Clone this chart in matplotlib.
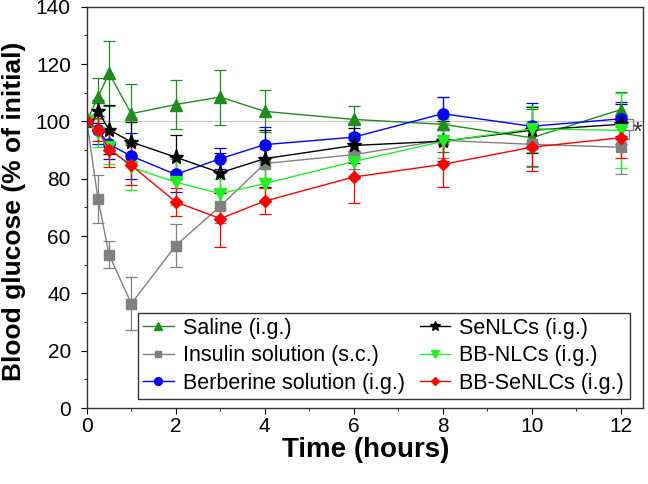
import matplotlib
matplotlib.use("Agg")
import matplotlib.pyplot as plt
from matplotlib.ticker import MultipleLocator

plt.rcParams['font.family'] = ['Liberation Sans', 'DejaVu Sans']

time_h = [0, 0.25, 0.5, 1, 2, 3, 4, 6, 8, 10, 12]

saline = [100, 108.5, 116.8, 102.7, 105.9, 108.5, 103.5, 100.7, 99.0, 94.3, 104.1]
saline_err = [0, 6.7, 11.3, 10.4, 8.7, 9.6, 7.3, 4.8, 9.5, 10, 6]

insulin = [100, 73.0, 53.5, 36.4, 56.7, 70.4, 85.3, 88.4, 93.4, 92.0, 91.0]
insulin_err = [0, 8.4, 4.7, 9.3, 7.6, 6, 5, 5, 6, 8, 9.5]

berberine = [100, 97.0, 92.0, 87.9, 81.5, 87.0, 91.9, 94.5, 102.7, 98.3, 100.9]
berberine_err = [0, 5, 5, 8, 6, 3.7, 6, 5, 5.8, 8, 6]

senlcs = [100, 103.6, 97.1, 92.8, 87.5, 82.1, 87.0, 91.6, 93.1, 96.9, 99.0]
senlcs_err = [0, 4, 8.5, 7, 7.6, 7, 10, 6, 7, 8, 7]

bb_nlcs = [100, 96.0, 91.0, 84.0, 78.8, 74.8, 78.3, 86.0, 93.0, 97.4, 96.9]
bb_nlcs_err = [0, 5, 6, 8, 8, 5, 6, 6, 8, 8, 13]

bb_senlcs = [100, 97.1, 90.2, 84.7, 71.9, 66.1, 72.2, 80.6, 85.0, 91.0, 94.3]
bb_senlcs_err = [0, 4, 6, 7, 5, 10, 4.6, 9, 8, 8.3, 7]

series = [
    ("Saline (i.g.)", saline, saline_err, "#1e8c1e", "^", 8),
    ("Insulin solution (s.c.)", insulin, insulin_err, "#808080", "s", 7),
    ("Berberine solution (i.g.)", berberine, berberine_err, "#0000ff", "o", 8),
    ("SeNLCs (i.g.)", senlcs, senlcs_err, "#000000", "*", 11),
    ("BB-NLCs (i.g.)", bb_nlcs, bb_nlcs_err, "#22ee22", "v", 8),
    ("BB-SeNLCs (i.g.)", bb_senlcs, bb_senlcs_err, "#ff0000", "D", 6.5),
]

fig = plt.figure(figsize=(6.48, 4.84), dpi=100)
ax = fig.add_axes([0.134, 0.157, 0.858, 0.829])

ax.axhline(100, color="#c8c8c8", lw=0.8, zorder=0)

handles = []
for label, y, err, col, mk, ms in series:
    eb = ax.errorbar(time_h, y, yerr=err, color=col, marker=mk, markersize=ms,
                     lw=1.0, elinewidth=0.9, capsize=4, capthick=0.9, label=label)
    handles.append(eb[0])

# significance brackets near 12 h
gray = "#7f7f7f"
ax.plot([12.14, 12.27, 12.27, 12.14], [101.0, 101.0, 97.0, 97.0], color=gray, lw=0.9, clip_on=False)
ax.plot([12.07, 12.20, 12.20, 12.07], [97.0, 97.0, 94.0, 94.0], color=gray, lw=0.9, clip_on=False)
ax.text(12.38, 96.0, "*", fontsize=18, color="#333333", ha="center", va="center", zorder=5)

ax.set_xlim(0, 12.5)
ax.set_ylim(0, 140)
ax.xaxis.set_major_locator(MultipleLocator(2))
ax.xaxis.set_minor_locator(MultipleLocator(1))
ax.yaxis.set_major_locator(MultipleLocator(20))
ax.yaxis.set_minor_locator(MultipleLocator(10))
ax.tick_params(which="both", direction="out", top=False, right=False, labelsize=15)
ax.tick_params(which="major", length=4.5)
ax.tick_params(which="minor", length=2.5)
ax.tick_params(axis="y", which="major", pad=7)
ax.tick_params(axis="x", which="major", pad=2)
for t in ax.get_yticklabels():
    t.set_verticalalignment("center_baseline")
for s in ax.spines.values():
    s.set_linewidth(1.0)
    s.set_color("#333333")

ax.set_xlabel("Time (hours)", fontsize=20, fontweight="bold")
ax.set_ylabel("Blood glucose (% of initial)", fontsize=19, fontweight="bold")
ax.xaxis.set_label_coords(0.501, -0.104)
ax.yaxis.set_label_coords(-0.131, 0.489)
ax.xaxis.label.set_va("center")
ax.yaxis.label.set_va("center")

leg = ax.legend(handles=handles, labels=[s[0] for s in series], ncol=2,
                loc="lower left", bbox_to_anchor=(0.092, 0.022), fontsize=15.5,
                frameon=True, fancybox=False, edgecolor="black", handlelength=1.4,
                handletextpad=0.42, columnspacing=0.73, labelspacing=0.3,
                borderpad=0.25, borderaxespad=0, markerscale=0.7)
leg.get_frame().set_linewidth(1.0)

fig.savefig("out.png", dpi=100)
